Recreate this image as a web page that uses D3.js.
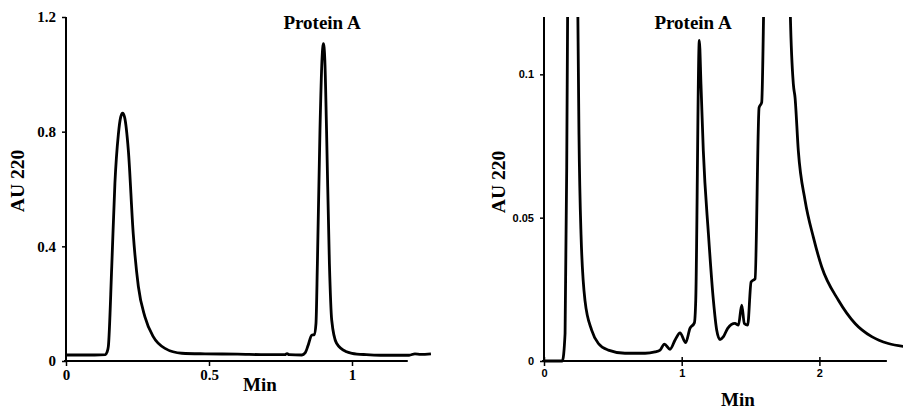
<!DOCTYPE html>
<html>
<head>
<meta charset="utf-8">
<script src="https://cdn.jsdelivr.net/npm/d3@7"></script>
<style>
  body { margin: 0; background: #fff; }
  svg { display: block; }
</style>
</head>
<body>
<div id="graph"></div>
<script>
// 左图: 全量程色谱 (Min, AU 220)
const leftTime = [0, 0.10, 0.138, 0.143, 0.148, 0.16, 0.171, 0.183, 0.191, 0.198, 0.205, 0.218, 0.235, 0.253, 0.276, 0.305, 0.346, 0.405, 0.486, 0.6, 0.7, 0.765, 0.773, 0.78, 0.825, 0.836, 0.847, 0.859, 0.868, 0.874, 0.879, 0.888, 0.895, 0.9, 0.905, 0.911, 0.921, 0.929, 0.946, 0.981, 1.0, 1.05, 1.1, 1.2, 1.22, 1.24, 1.276]
const leftAU   = [0.021, 0.021, 0.022, 0.03, 0.05, 0.33, 0.62, 0.79, 0.85, 0.865, 0.85, 0.735, 0.445, 0.26, 0.154, 0.085, 0.044, 0.027, 0.025, 0.024, 0.022, 0.022, 0.026, 0.022, 0.021, 0.028, 0.056, 0.09, 0.092, 0.13, 0.34, 0.805, 1.05, 1.107, 1.05, 0.805, 0.34, 0.143, 0.062, 0.032, 0.027, 0.022, 0.02, 0.02, 0.025, 0.023, 0.025]
const leftXTicks = [0, 0.5, 1]
const leftYTicks = [0, 0.4, 0.8, 1.2]

// 右图: 放大的纵轴
const rightTime = [0, 0.133, 0.153, 0.165, 0.172, 0.2, 0.245, 0.254, 0.269, 0.298, 0.346, 0.395, 0.467, 0.588, 0.734, 0.806, 0.843, 0.874, 0.915, 0.952, 0.988, 1.029, 1.06, 1.092, 1.102, 1.128, 1.14, 1.157, 1.194, 1.23, 1.254, 1.278, 1.303, 1.334, 1.387, 1.412, 1.436, 1.455, 1.479, 1.504, 1.533, 1.562, 1.581, 1.596, 1.7, 1.787, 1.811, 1.823, 1.847, 1.896, 1.956, 2.017, 2.138, 2.259, 2.38, 2.501, 2.622]
const rightAU   = [0, 0, 0.0096, 0.0676, 0.125, 0.6, 0.125, 0.079, 0.044, 0.021, 0.0108, 0.0061, 0.0038, 0.0027, 0.0027, 0.0032, 0.0038, 0.0059, 0.0041, 0.0073, 0.0098, 0.0064, 0.0114, 0.0133, 0.0212, 0.1118, 0.0965, 0.0733, 0.0444, 0.0212, 0.0108, 0.0075, 0.0085, 0.0114, 0.0131, 0.0125, 0.0195, 0.0131, 0.0125, 0.0276, 0.0287, 0.0884, 0.0902, 0.125, 0.8, 0.125, 0.0965, 0.092, 0.0733, 0.056, 0.0432, 0.0328, 0.0212, 0.0131, 0.0085, 0.0061, 0.005]
const rightXTicks = [0, 1, 2]
const rightYTicks = [0, 0.05, 0.1]

const serif = "'Liberation Serif', 'Times New Roman', serif"
const sans = "'Liberation Sans', Arial, sans-serif"

const svg = d3.select("#graph").append("svg")
    .attr("width", 905)
    .attr("height", 412)

function panel(cfg) {
    const x = d3.scaleLinear().domain([0, 1]).range(cfg.xRange)
    const y = d3.scaleLinear().domain(cfg.yDomain).range([361, 17])
    const g = svg.append("g")

    // 裁剪: 超出纵轴顶端的峰截掉
    g.append("clipPath").attr("id", cfg.id)
        .append("rect")
        .attr("x", x(0) - 2).attr("y", 17)
        .attr("width", 905 - x(0)).attr("height", 361 - 17 + 3)

    // 坐标轴
    const xAxis = d3.axisBottom(x)
        .tickValues(cfg.xTicks)
        .tickSize(cfg.xTickSize)
        .tickPadding(3)
        .tickFormat(d => d3.format("")(d))
    const gx = g.append("g")
        .attr("transform", `translate(0,${y(0)})`)
        .call(xAxis)
    gx.select(".domain").remove()
    gx.selectAll(".tick line").attr("stroke", "#000").attr("stroke-width", 1.5)
        .attr("y1", cfg.xTickUp)
    gx.selectAll(".tick text")
        .attr("font-family", cfg.tickFont).attr("font-weight", "bold")
        .attr("font-size", cfg.tickSize).attr("fill", "#000")
    g.append("line")
        .attr("x1", x(0) - 2).attr("x2", x(cfg.xEnd))
        .attr("y1", y(0)).attr("y2", y(0))
        .attr("stroke", "#000").attr("stroke-width", 2)

    const yAxis = d3.axisLeft(y)
        .tickValues(cfg.yTicks)
        .tickSize(4)
        .tickPadding(6)
        .tickFormat(d => d3.format("")(d))
    const gy = g.append("g")
        .attr("transform", `translate(${x(0)},0)`)
        .call(yAxis)
    gy.select(".domain").remove()
    gy.selectAll(".tick line").attr("stroke", "#000").attr("stroke-width", 1.5)
    gy.selectAll(".tick text")
        .attr("font-family", cfg.tickFont).attr("font-weight", "bold")
        .attr("font-size", cfg.tickSize).attr("fill", "#000")
    g.append("line")
        .attr("x1", x(0)).attr("x2", x(0))
        .attr("y1", 17).attr("y2", y(0) + 1)
        .attr("stroke", "#000").attr("stroke-width", 2)

    // 色谱曲线
    const line = d3.line()
        .x(d => x(d[0]))
        .y(d => y(d[1]))
        .curve(d3.curveMonotoneX)
    g.append("path")
        .datum(d3.zip(cfg.time, cfg.au))
        .attr("clip-path", `url(#${cfg.id})`)
        .attr("fill", "none")
        .attr("stroke", "#000")
        .attr("stroke-width", 2.8)
        .attr("stroke-linejoin", "round")
        .attr("d", line)

    // 标注
    g.append("text")
        .attr("x", cfg.labelX).attr("y", 29)
        .attr("text-anchor", "middle")
        .attr("font-family", serif).attr("font-weight", "bold").attr("font-size", 19)
        .text("Protein A")
    g.append("text")
        .attr("transform", `translate(${cfg.yTitleX},${cfg.yTitleY}) rotate(-90)`)
        .attr("text-anchor", "middle")
        .attr("font-family", serif).attr("font-weight", "bold").attr("font-size", 19.5)
        .text("AU 220")
    g.append("text")
        .attr("x", cfg.xTitleX).attr("y", cfg.xTitleY)
        .attr("text-anchor", "middle")
        .attr("font-family", serif).attr("font-weight", "bold").attr("font-size", 19)
        .text("Min")
}

panel({
    id: "clipL", xRange: [66, 352], yDomain: [0, 1.2], xEnd: 1.195,
    xTicks: leftXTicks, yTicks: leftYTicks, xTickSize: 5, xTickUp: 0,
    tickFont: serif, tickSize: 15,
    time: leftTime, au: leftAU,
    labelX: 322, yTitleX: 24, yTitleY: 181, xTitleX: 260, xTitleY: 390.5
})

panel({
    id: "clipR", xRange: [544, 681.7], yDomain: [0, 0.12], xEnd: 2.49,
    xTicks: rightXTicks, yTicks: rightYTicks, xTickSize: 5, xTickUp: -4,
    tickFont: sans, tickSize: 11,
    time: rightTime, au: rightAU,
    labelX: 693, yTitleX: 505, yTitleY: 182, xTitleX: 738, xTitleY: 406
})
</script>
</body>
</html>
